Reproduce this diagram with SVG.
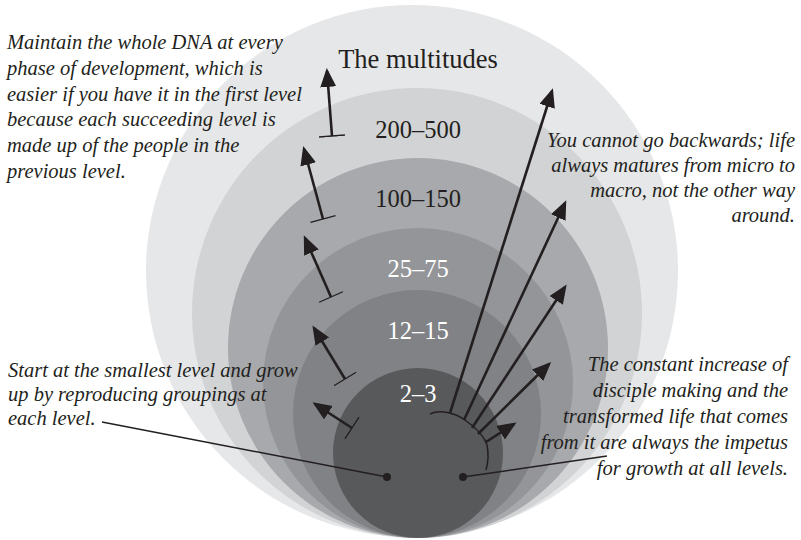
<svg xmlns="http://www.w3.org/2000/svg" width="801" height="540" viewBox="0 0 801 540">
<style>
text{font-family:'Liberation Serif','Times New Roman','DejaVu Serif',serif}
.note{font-style:italic;font-size:20.5px;fill:#231f20}
.lbl{font-size:24.5px;text-anchor:middle}
.big{font-size:26.5px}
.dk{fill:#231f20}
.wt{fill:#ffffff}
.shaft{stroke:#231f20;stroke-width:2.6;fill:none}
.lead{stroke:#231f20;stroke-width:1.5;fill:none}
</style>
<defs>
<marker id="head" markerUnits="userSpaceOnUse" markerWidth="20" markerHeight="18" refX="16" refY="8" orient="auto" viewBox="0 0 20 18">
<path d="M0,0 L19,8 L0,16 Z" fill="#231f20"/>
</marker>
<marker id="tbar" markerUnits="userSpaceOnUse" markerWidth="4" markerHeight="28" refX="1" refY="13" orient="auto" viewBox="0 0 4 28">
<path d="M1,0 L1,26" stroke="#231f20" stroke-width="1.3"/>
</marker>
</defs>
<rect width="801" height="540" fill="#ffffff"/>
<g id="level-multitudes"><circle cx="412" cy="271" r="266" fill="#e6e7e8"/><text class="lbl big dk" x="418" y="68">The multitudes</text></g>
<g id="level-200-500"><circle cx="417" cy="313" r="225" fill="#d1d3d4"/><text class="lbl dk" x="418" y="138">200–500</text></g>
<g id="level-100-150"><circle cx="418" cy="348" r="190" fill="#a7a9ac"/><text class="lbl dk" x="418" y="207">100–150</text></g>
<g id="level-25-75"><circle cx="418" cy="383" r="155" fill="#939598"/><text class="lbl wt" x="418" y="277">25–75</text></g>
<g id="level-12-15"><circle cx="417" cy="414" r="124" fill="#808285"/><text class="lbl wt" x="418" y="339">12–15</text></g>
<g id="level-2-3"><circle cx="418" cy="453" r="85" fill="#58595b"/><text class="lbl wt" x="418" y="402">2–3</text></g>
<g id="connectors">
<line class="shaft" x1="332" y1="136" x2="327" y2="71" marker-start="url(#tbar)" marker-end="url(#head)"/>
<line class="shaft" x1="323" y1="219" x2="304" y2="149" marker-start="url(#tbar)" marker-end="url(#head)"/>
<line class="shaft" x1="331" y1="297" x2="305" y2="238" marker-start="url(#tbar)" marker-end="url(#head)"/>
<line class="shaft" x1="345" y1="379" x2="314" y2="328" marker-start="url(#tbar)" marker-end="url(#head)"/>
<line class="shaft" x1="352" y1="428" x2="315" y2="404" marker-start="url(#tbar)" marker-end="url(#head)"/>
<path class="lead" stroke-width="1.2" d="M430,414 C440,409 455,413 465,420 C475,427 484,435 487,445 C489,455 488,463 486,470"/>
<line class="shaft" x1="450" y1="413" x2="552" y2="91" marker-end="url(#head)"/>
<line class="shaft" x1="464" y1="420" x2="565" y2="203" marker-end="url(#head)"/>
<line class="shaft" x1="472" y1="428" x2="565" y2="287" marker-end="url(#head)"/>
<line class="shaft" x1="478" y1="434" x2="549" y2="364" marker-end="url(#head)"/>
<line class="shaft" x1="486" y1="442" x2="514" y2="424" marker-end="url(#head)"/>
<line class="lead" x1="102" y1="422" x2="387" y2="477"/>
<circle cx="387" cy="477" r="4" fill="#231f20"/>
<line class="lead" x1="463" y1="477" x2="607" y2="456"/>
<circle cx="463" cy="477" r="4" fill="#231f20"/>
</g>
<g id="note-dna">
<text class="note" x="7" y="49">Maintain the whole DNA at every</text>
<text class="note" x="7" y="75">phase of development, which is</text>
<text class="note" x="7" y="101">easier if you have it in the first level</text>
<text class="note" x="7" y="126">because each succeeding level is</text>
<text class="note" x="7" y="152">made up of the people in the</text>
<text class="note" x="7" y="178">previous level.</text>
</g>
<g id="note-backwards" text-anchor="end">
<text class="note" x="795" y="147">You cannot go backwards; life</text>
<text class="note" x="795" y="172">always matures from micro to</text>
<text class="note" x="795" y="197">macro, not the other way</text>
<text class="note" x="795" y="222">around.</text>
</g>
<g id="note-start">
<text class="note" x="8" y="377">Start at the smallest level and grow</text>
<text class="note" x="8" y="401">up by reproducing groupings at</text>
<text class="note" x="8" y="425">each level.</text>
</g>
<g id="note-impetus" text-anchor="end">
<text class="note" x="788" y="371">The constant increase of</text>
<text class="note" x="788" y="397">disciple making and the</text>
<text class="note" x="788" y="423">transformed life that comes</text>
<text class="note" x="788" y="449">from it are always the impetus</text>
<text class="note" x="788" y="475">for growth at all levels.</text>
</g>
</svg>
